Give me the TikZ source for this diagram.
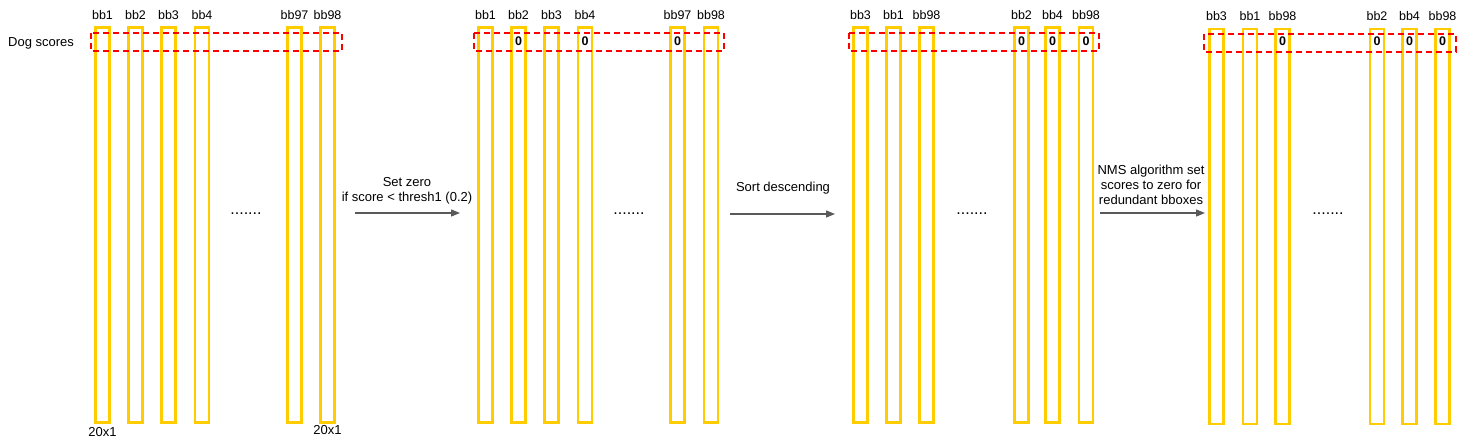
\documentclass[tikz,border=0pt]{standalone}
\usepackage{fontspec}
\setmainfont{Liberation Sans}
\usetikzlibrary{arrows.meta}
\definecolor{bargold}{HTML}{FFCC00}
\definecolor{flowgray}{HTML}{595959}
\begin{document}
\begin{tikzpicture}[x=1pt,y=-1pt,font=\fontsize{13}{15}\selectfont,
	bar/.style={draw=bargold, line width=2.6pt, minimum width=14pt, minimum height=395pt, inner sep=0pt},
	lab/.style={inner sep=0pt, label distance=6.5pt, font=\fontsize{12.5}{15}\selectfont},
	zero/.style={font=\fontsize{12.5}{15}\selectfont\bfseries, inner sep=1pt},
	score/.style={draw=red, line width=1.6pt, dash pattern=on 6pt off 4pt},
	flow/.style={draw=flowgray, line width=1.3pt, -{Triangle[length=9pt,width=7pt]}},
	dots/.style={font=\fontsize{16}{18}\selectfont, inner sep=0pt}]
	\useasboundingbox (0,0) rectangle (1471,442);
	\node[anchor=west] (dog) at (4.7,43) {Dog scores};
	% boxes: name/x/y/label/zero
	\foreach \n/\x/\y/\lab/\z in {
		a1/102.5/225/bb1/0, a2/135.5/225/bb2/0, a3/168.5/225/bb3/0, a4/202/225/bb4/0, a5/294.5/225/bb97/0, a6/327.5/225/bb98/0,
		b1/485.5/225/bb1/0, b2/518.5/225/bb2/1, b3/551.5/225/bb3/0, b4/585/225/bb4/1, b5/677.5/225/bb97/1, b6/711/225/bb98/0,
		c1/860.5/225/bb3/0, c2/893.5/225/bb1/0, c3/926.5/225/bb98/0, c4/1021.5/225/bb2/1, c5/1052.5/225/bb4/1, c6/1086/225/bb98/1,
		d1/1216.5/226.5/bb3/0, d2/1250/226.5/bb1/0, d3/1282.5/226.5/bb98/1, d4/1377/226.5/bb2/1, d5/1409.5/226.5/bb4/1, d6/1442.5/226.5/bb98/1}
	{
		\node[bar, label={[lab]above:\lab}] (\n) at (\x,\y) {};
		\ifnum\z=1 \node[zero] (z\n) at (\x,41.5) {0}; \fi
	}
	\draw[score] (91,33) rectangle (342,51);
	\draw[score] (474,33) rectangle (724,51);
	\draw[score] (849,33) rectangle (1099,51);
	\draw[score] (1204,34) rectangle (1456,52);
	\node[anchor=north] (dimA) at (a1.south) {20x1};
	\node[anchor=north, yshift=2pt] (dimB) at (a6.south) {20x1};
	\node[dots] (gapA) at (246,214) {.......};
	\node[dots] (gapB) at (629,214) {.......};
	\node[dots] (gapC) at (972,214) {.......};
	\node[dots] (gapD) at (1328,214) {.......};
	\coordinate (s1) at (355,213); \coordinate (e1) at (460,213);
	\coordinate (s2) at (730,214); \coordinate (e2) at (835,214);
	\coordinate (s3) at (1100,213); \coordinate (e3) at (1205,213);
	\draw[flow] (s1) -- (e1);
	\draw[flow] (s2) -- (e2);
	\draw[flow] (s3) -- (e3);
	\node[align=center] (t1) at (407,190.5) {Set zero\\if score < thresh1 (0.2)};
	\node (t2) at (783,188) {Sort descending};
	\node[align=center] (t3) at (1151,184.5) {NMS algorithm set\\scores to zero for\\redundant bboxes};
\end{tikzpicture}
\end{document}
